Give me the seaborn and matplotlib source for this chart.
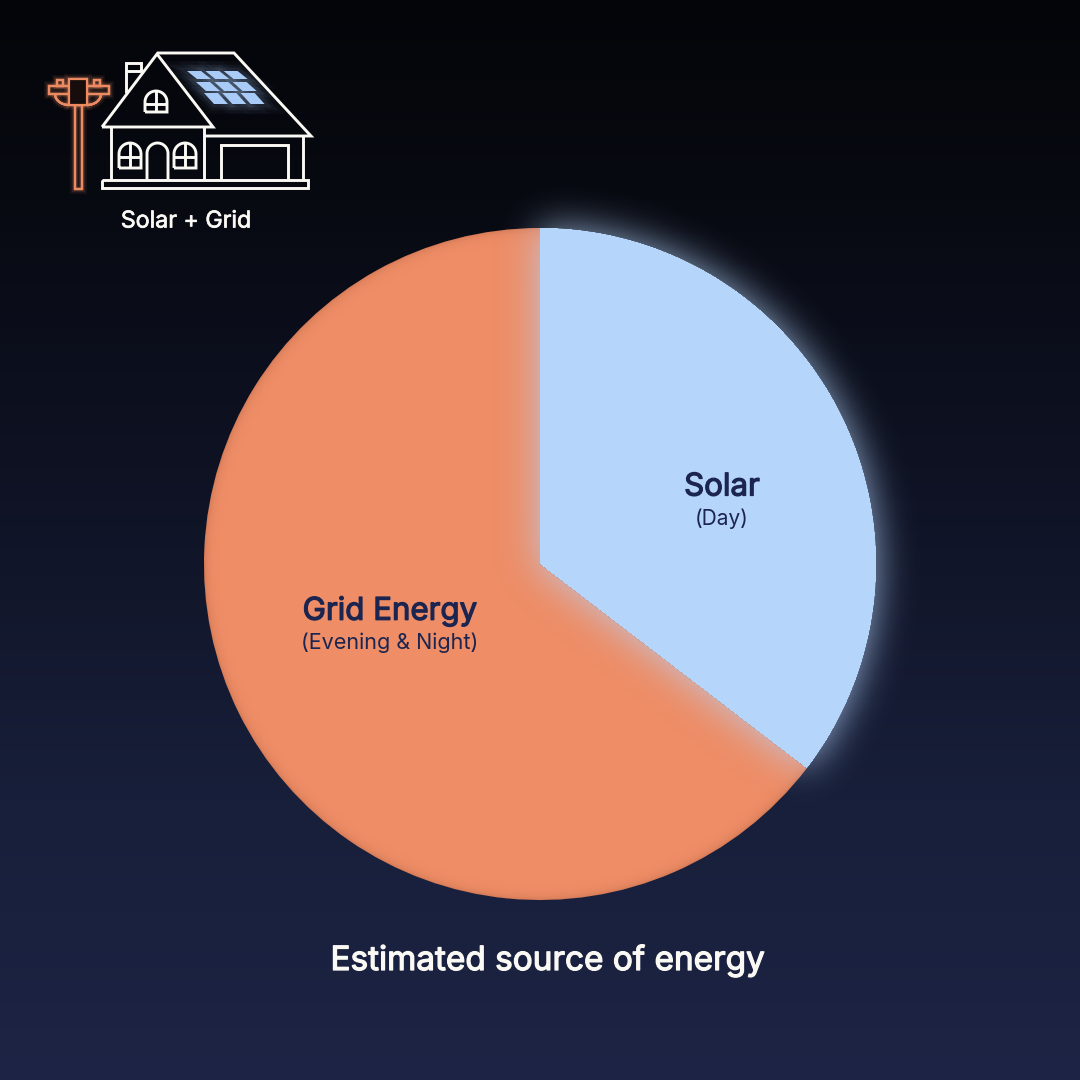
import numpy as np
import matplotlib
matplotlib.use("Agg")
import matplotlib.pyplot as plt
import matplotlib.patheffects as pe
from matplotlib.patches import Arc, Polygon, Rectangle
from matplotlib.colors import to_rgb
import seaborn as sns

categories = ["Solar", "Grid Energy"]
periods = ["(Day)", "(Evening & Night)"]
shares = [35.4, 64.6]
chart_title = "Estimated source of energy"
icon_label = "Solar + Grid"

sns.set_theme(style="dark")
plt.rcParams["font.family"] = ["Inter", "DejaVu Sans"]
colors = sns.color_palette(["#b5d5fb", "#ee8d66"])
navy = "#1c2550"
white = "#fbf9f4"
orange = "#ec8a62"
panel = "#a9cbf7"


def Y(y):
    return 1080 - y


def gaussian_blur(img, sigma):
    n = img.shape[0]
    f = np.fft.fftfreq(n)
    kernel = np.exp(-2 * (np.pi * sigma) ** 2 * (f[:, None] ** 2 + f[None, :] ** 2))
    return np.real(np.fft.ifft2(np.fft.fft2(img) * kernel))


def label(x, y, s, color, size, heavy=0.0):
    t = ax.text(x, Y(y), s, color=color, fontsize=size, ha="center", va="center", zorder=7)
    if heavy:
        t.set_path_effects([pe.withStroke(linewidth=heavy, foreground=color)])


fig = plt.figure(figsize=(10.8, 10.8), dpi=100)
ax = fig.add_axes([0, 0, 1, 1])

# background
stops_y = [0, 200, 500, 800, 1080]
stops_c = np.array([[4, 5, 9], [8, 10, 18], [15, 19, 37], [24, 31, 58], [29, 36, 69]]) / 255
rows = np.arange(1080)
bg = np.stack([np.interp(rows, stops_y, stops_c[:, i]) for i in range(3)], axis=1)
ax.imshow(bg[:, None, :], extent=(0, 1080, 0, 1080), origin="upper", aspect="auto", zorder=0)

cx, cy, radius = 540, Y(564), 336
wedges, _ = ax.pie(shares, colors=colors, startangle=90, counterclock=False,
                   center=(cx, cy), radius=radius, frame=True,
                   wedgeprops={"linewidth": 0, "edgecolor": "none"})
for w in wedges:
    w.set_zorder(1)

# soft glow of the solar slice, falls on the background and on the grid slice
xx, yy = np.meshgrid(np.arange(1080) + 0.5, np.arange(1080) + 0.5)
rr = np.hypot(xx - cx, yy - cy)
th = np.degrees(np.arctan2(yy - cy, xx - cx))
mask = ((rr <= radius) & (th >= wedges[0].theta1) & (th <= wedges[0].theta2)).astype(float)
glow = np.clip(gaussian_blur(mask, 19), 0, 1)

# darker rim on the grid slice
rim = np.zeros((1080, 1080, 4))
rim[..., :3] = (0.45, 0.2, 0.12)
rim[..., 3] = np.where(rr <= radius, 0.2 * np.exp(-(radius - rr) / 4), 0) * (1 - glow)
ax.imshow(rim, extent=(0, 1080, 0, 1080), origin="lower", aspect="auto", zorder=1.5)

rgba = np.zeros((1080, 1080, 4))
rgba[..., :3] = to_rgb(colors[0])
rgba[..., 3] = np.where(mask > 0, 1, glow * 0.8)
ax.imshow(rgba, extent=(0, 1080, 0, 1080), origin="lower", aspect="auto", zorder=2)

label(722, 487.5, categories[0], navy, 22.5, 0.9)
label(722, 518.5, periods[0], navy, 15)
label(390, 611.5, categories[1], navy, 22.5, 0.9)
label(390, 642.5, periods[1], navy, 15.5)
label(548, 960.5, chart_title, white, 24, 0.9)
label(186, 221.5, icon_label, white, 16.7, 0.5)


# house icon
def line(pts, color=white, lw=2.1, **kw):
    ax.plot([p[0] for p in pts], [Y(p[1]) for p in pts], color=color, lw=lw,
            solid_joinstyle="miter", solid_capstyle="butt", zorder=6, **kw)


def arch_window(x0, x1, top, bottom, cross_y=None):
    r = (x1 - x0) / 2
    t = np.linspace(np.pi, 0, 30)
    xs = x0 + r + r * np.cos(t)
    ys = top + r - r * np.sin(t)
    pts = [(x0, bottom)] + list(zip(xs, ys)) + [(x1, bottom)]
    if cross_y is None:
        line(pts)
    else:
        line(pts + [(x0, bottom)])
        line([(x0 + r, top), (x0 + r, bottom)])
        line([(x0, cross_y), (x1, cross_y)])


line([(102, 127), (157, 54), (213, 127), (102, 127)])
line([(157, 53), (234, 53), (311, 136), (205, 136)])
line([(126, 93), (126, 63), (141, 63), (141, 72)])
line([(126, 71), (141, 71)])
line([(111, 127), (111, 179)])
line([(204, 127), (204, 179)])
line([(303, 136), (303, 179)])
line([(102, 180), (308, 180), (308, 188), (102, 188), (102, 180)])
line([(221, 179), (221, 145), (288, 145), (288, 179)])
arch_window(147, 168, 143, 179)
arch_window(119, 141, 143, 168, 157)
arch_window(174, 196, 143, 168, 157)
arch_window(145, 167, 91, 112, 104)

# solar panels
for top, bottom, left_top, left_bottom in [(71, 79, 187, 196), (82, 91, 196, 205), (93, 104, 204, 213)]:
    for col in range(3):
        x_t = left_top + col * 18.3
        x_b = left_bottom + col * 18.3
        pts = [(x_t, Y(top)), (x_t + 14, Y(top)), (x_b + 15, Y(bottom)), (x_b + 1, Y(bottom))]
        for lw, a in [(14, 0.03), (9, 0.05), (5, 0.07)]:
            ax.add_patch(Polygon(pts, closed=True, facecolor="none", edgecolor=panel, lw=lw, alpha=a, zorder=5))
        ax.add_patch(Polygon(pts, closed=True, facecolor=panel, edgecolor="none", zorder=6))

# utility pole
halo = [pe.withStroke(linewidth=7, foreground=orange, alpha=0.08),
        pe.withStroke(linewidth=4.5, foreground=orange, alpha=0.14),
        pe.Normal()]
pole_parts = [
    Rectangle((49, Y(94)), 60, 8),
    Rectangle((57, Y(86)), 6, 6),
    Rectangle((94, Y(86)), 6, 6),
    Rectangle((75, Y(189)), 7, 84),
]
for p in pole_parts:
    p.set(facecolor="none", edgecolor=orange, lw=1.6, zorder=6, path_effects=halo)
    ax.add_patch(p)
for x_c, t1, t2 in [(69, 180, 270), (87, 270, 360)]:
    ax.add_patch(Arc((x_c, Y(94)), 28, 22, theta1=t1, theta2=t2, color=orange, lw=1.6, zorder=6, path_effects=halo))
ax.add_patch(Rectangle((69, Y(105)), 18, 26, facecolor="#170d0c", edgecolor=orange, lw=1.6, zorder=6.5, path_effects=halo))

ax.set_xlim(0, 1080)
ax.set_ylim(0, 1080)
ax.set_aspect("auto")
ax.axis("off")
fig.savefig("out.png", dpi=100)
